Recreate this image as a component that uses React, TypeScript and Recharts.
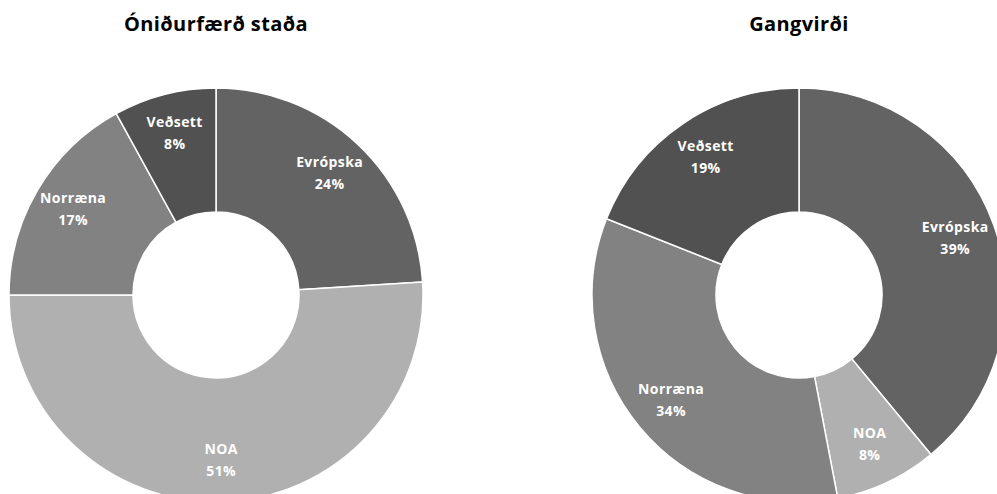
import React from "react";
import { PieChart, Pie, Cell } from "recharts";

const categories = ["Evrópska", "NOA", "Norræna", "Veðsett"];
const bookValues = [24, 51, 17, 8];
const fairValues = [39, 8, 34, 19];
const titles = ["Óniðurfærð staða", "Gangvirði"];

const COLORS = ["#636363", "#b0b0b0", "#828282", "#515151"];
const FONT = "'Open Sans', sans-serif";

const bookData = categories.map((name, i) => ({ name, value: bookValues[i] }));
const fairData = categories.map((name, i) => ({ name, value: fairValues[i] }));

const RADIAN = Math.PI / 180;
const LABEL_R = 166;

const renderLabel = (props: any) => {
  const { cx, cy, midAngle, name, value } = props;
  const x = cx + LABEL_R * Math.cos(-midAngle * RADIAN);
  const y = cy + LABEL_R * Math.sin(-midAngle * RADIAN);
  return (
    <text
      x={x}
      y={y}
      fill="#ffffff"
      textAnchor="middle"
      fontFamily={FONT}
      fontWeight="bold"
      fontSize={14}
      letterSpacing={0.4}
    >
      <tspan x={x} dy={-7}>
        {name}
      </tspan>
      <tspan x={x} dy={22}>
        {`${value}%`}
      </tspan>
    </text>
  );
};

const pies = [
  { data: bookData, cx: 216, title: titles[0] },
  { data: fairData, cx: 799, title: titles[1] },
];

export default function App() {
  return (
    <div
      style={{
        position: "absolute",
        left: 0,
        top: 0,
        width: 997,
        height: 494,
        overflow: "hidden",
        background: "#fff",
      }}
    >
      {pies.map((p) => (
        <div
          key={p.title}
          style={{
            position: "absolute",
            left: p.cx - 150,
            top: 14,
            width: 300,
            textAlign: "center",
            fontFamily: FONT,
            fontWeight: "bold",
            fontSize: 20,
            lineHeight: "20px",
            letterSpacing: 0.4,
            color: "#000",
          }}
        >
          {p.title}
        </div>
      ))}
      <PieChart
        width={997}
        height={494}
        margin={{ top: 0, right: 0, bottom: 0, left: 0 }}
        style={{ position: "absolute", left: 0, top: 0 }}
      >
        {pies.map((p) => (
          <Pie
            key={p.title}
            data={p.data}
            dataKey="value"
            nameKey="name"
            cx={p.cx}
            cy={295}
            innerRadius={83}
            outerRadius={207}
            startAngle={90}
            endAngle={-270}
            stroke="#ffffff"
            strokeWidth={1.5}
            labelLine={false}
            label={renderLabel}
            isAnimationActive={false}
          >
            {p.data.map((entry, index) => (
              <Cell key={`cell-${index}`} fill={COLORS[index]} />
            ))}
          </Pie>
        ))}
      </PieChart>
    </div>
  );
}
